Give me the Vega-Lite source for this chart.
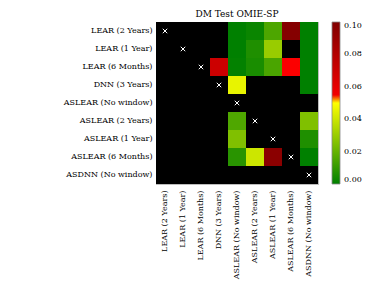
{
  "$schema": "https://vega.github.io/schema/vega-lite/v6.json",
  "autosize": {"type": "none"},
  "padding": {"left": 156, "top": 22, "right": 66, "bottom": 104},
  "width": 162,
  "height": 162,
  "title": {"text": "DM Test OMIE-SP", "font": "DejaVu Serif", "fontSize": 9, "fontWeight": "normal", "color": "black", "anchor": "middle", "baseline": "alphabetic", "offset": -4, "frame": "group"},
  "config": {
    "view": {"stroke": "#bdbdbd", "strokeWidth": 1, "fill": "black"},
    "axis": {"labelFont": "DejaVu Serif", "labelFontSize": 8, "labelColor": "black", "ticks": false, "domain": false, "grid": false, "title": null, "labelOverlap": false, "labelLimit": 0},
    "legend": {"labelFont": "DejaVu Serif", "labelFontSize": 8, "labelColor": "black"}
  },
  "data": {"values": [
    {"row": "LEAR (2 Years)", "col": "LEAR (2 Years)", "p": 1},
    {"row": "LEAR (2 Years)", "col": "LEAR (1 Year)", "p": 1},
    {"row": "LEAR (2 Years)", "col": "LEAR (6 Months)", "p": 1},
    {"row": "LEAR (2 Years)", "col": "DNN (3 Years)", "p": 1},
    {"row": "LEAR (2 Years)", "col": "ASLEAR (No window)", "p": 0.0},
    {"row": "LEAR (2 Years)", "col": "ASLEAR (2 Years)", "p": 0.002},
    {"row": "LEAR (2 Years)", "col": "ASLEAR (1 Year)", "p": 0.015},
    {"row": "LEAR (2 Years)", "col": "ASLEAR (6 Months)", "p": 0.098},
    {"row": "LEAR (2 Years)", "col": "ASDNN (No window)", "p": 0.0},
    {"row": "LEAR (1 Year)", "col": "LEAR (2 Years)", "p": 1},
    {"row": "LEAR (1 Year)", "col": "LEAR (1 Year)", "p": 1},
    {"row": "LEAR (1 Year)", "col": "LEAR (6 Months)", "p": 1},
    {"row": "LEAR (1 Year)", "col": "DNN (3 Years)", "p": 1},
    {"row": "LEAR (1 Year)", "col": "ASLEAR (No window)", "p": 0.0},
    {"row": "LEAR (1 Year)", "col": "ASLEAR (2 Years)", "p": 0.006},
    {"row": "LEAR (1 Year)", "col": "ASLEAR (1 Year)", "p": 0.030},
    {"row": "LEAR (1 Year)", "col": "ASLEAR (6 Months)", "p": 1},
    {"row": "LEAR (1 Year)", "col": "ASDNN (No window)", "p": 0.0},
    {"row": "LEAR (6 Months)", "col": "LEAR (2 Years)", "p": 1},
    {"row": "LEAR (6 Months)", "col": "LEAR (1 Year)", "p": 1},
    {"row": "LEAR (6 Months)", "col": "LEAR (6 Months)", "p": 1},
    {"row": "LEAR (6 Months)", "col": "DNN (3 Years)", "p": 0.070},
    {"row": "LEAR (6 Months)", "col": "ASLEAR (No window)", "p": 0.0005},
    {"row": "LEAR (6 Months)", "col": "ASLEAR (2 Years)", "p": 0.005},
    {"row": "LEAR (6 Months)", "col": "ASLEAR (1 Year)", "p": 0.0145},
    {"row": "LEAR (6 Months)", "col": "ASLEAR (6 Months)", "p": 0.051},
    {"row": "LEAR (6 Months)", "col": "ASDNN (No window)", "p": 0.0},
    {"row": "DNN (3 Years)", "col": "LEAR (2 Years)", "p": 1},
    {"row": "DNN (3 Years)", "col": "LEAR (1 Year)", "p": 1},
    {"row": "DNN (3 Years)", "col": "LEAR (6 Months)", "p": 1},
    {"row": "DNN (3 Years)", "col": "DNN (3 Years)", "p": 1},
    {"row": "DNN (3 Years)", "col": "ASLEAR (No window)", "p": 0.0455},
    {"row": "DNN (3 Years)", "col": "ASLEAR (2 Years)", "p": 1},
    {"row": "DNN (3 Years)", "col": "ASLEAR (1 Year)", "p": 1},
    {"row": "DNN (3 Years)", "col": "ASLEAR (6 Months)", "p": 1},
    {"row": "DNN (3 Years)", "col": "ASDNN (No window)", "p": 0.0},
    {"row": "ASLEAR (No window)", "col": "LEAR (2 Years)", "p": 1},
    {"row": "ASLEAR (No window)", "col": "LEAR (1 Year)", "p": 1},
    {"row": "ASLEAR (No window)", "col": "LEAR (6 Months)", "p": 1},
    {"row": "ASLEAR (No window)", "col": "DNN (3 Years)", "p": 1},
    {"row": "ASLEAR (No window)", "col": "ASLEAR (No window)", "p": 1},
    {"row": "ASLEAR (No window)", "col": "ASLEAR (2 Years)", "p": 1},
    {"row": "ASLEAR (No window)", "col": "ASLEAR (1 Year)", "p": 1},
    {"row": "ASLEAR (No window)", "col": "ASLEAR (6 Months)", "p": 1},
    {"row": "ASLEAR (No window)", "col": "ASDNN (No window)", "p": 1},
    {"row": "ASLEAR (2 Years)", "col": "LEAR (2 Years)", "p": 1},
    {"row": "ASLEAR (2 Years)", "col": "LEAR (1 Year)", "p": 1},
    {"row": "ASLEAR (2 Years)", "col": "LEAR (6 Months)", "p": 1},
    {"row": "ASLEAR (2 Years)", "col": "DNN (3 Years)", "p": 1},
    {"row": "ASLEAR (2 Years)", "col": "ASLEAR (No window)", "p": 0.0155},
    {"row": "ASLEAR (2 Years)", "col": "ASLEAR (2 Years)", "p": 1},
    {"row": "ASLEAR (2 Years)", "col": "ASLEAR (1 Year)", "p": 1},
    {"row": "ASLEAR (2 Years)", "col": "ASLEAR (6 Months)", "p": 1},
    {"row": "ASLEAR (2 Years)", "col": "ASDNN (No window)", "p": 0.025},
    {"row": "ASLEAR (1 Year)", "col": "LEAR (2 Years)", "p": 1},
    {"row": "ASLEAR (1 Year)", "col": "LEAR (1 Year)", "p": 1},
    {"row": "ASLEAR (1 Year)", "col": "LEAR (6 Months)", "p": 1},
    {"row": "ASLEAR (1 Year)", "col": "DNN (3 Years)", "p": 1},
    {"row": "ASLEAR (1 Year)", "col": "ASLEAR (No window)", "p": 0.025},
    {"row": "ASLEAR (1 Year)", "col": "ASLEAR (2 Years)", "p": 1},
    {"row": "ASLEAR (1 Year)", "col": "ASLEAR (1 Year)", "p": 1},
    {"row": "ASLEAR (1 Year)", "col": "ASLEAR (6 Months)", "p": 1},
    {"row": "ASLEAR (1 Year)", "col": "ASDNN (No window)", "p": 0.006},
    {"row": "ASLEAR (6 Months)", "col": "LEAR (2 Years)", "p": 1},
    {"row": "ASLEAR (6 Months)", "col": "LEAR (1 Year)", "p": 1},
    {"row": "ASLEAR (6 Months)", "col": "LEAR (6 Months)", "p": 1},
    {"row": "ASLEAR (6 Months)", "col": "DNN (3 Years)", "p": 1},
    {"row": "ASLEAR (6 Months)", "col": "ASLEAR (No window)", "p": 0.008},
    {"row": "ASLEAR (6 Months)", "col": "ASLEAR (2 Years)", "p": 0.040},
    {"row": "ASLEAR (6 Months)", "col": "ASLEAR (1 Year)", "p": 0.0955},
    {"row": "ASLEAR (6 Months)", "col": "ASLEAR (6 Months)", "p": 1},
    {"row": "ASLEAR (6 Months)", "col": "ASDNN (No window)", "p": 0.0},
    {"row": "ASDNN (No window)", "col": "LEAR (2 Years)", "p": 1},
    {"row": "ASDNN (No window)", "col": "LEAR (1 Year)", "p": 1},
    {"row": "ASDNN (No window)", "col": "LEAR (6 Months)", "p": 1},
    {"row": "ASDNN (No window)", "col": "DNN (3 Years)", "p": 1},
    {"row": "ASDNN (No window)", "col": "ASLEAR (No window)", "p": 1},
    {"row": "ASDNN (No window)", "col": "ASLEAR (2 Years)", "p": 1},
    {"row": "ASDNN (No window)", "col": "ASLEAR (1 Year)", "p": 1},
    {"row": "ASDNN (No window)", "col": "ASLEAR (6 Months)", "p": 1},
    {"row": "ASDNN (No window)", "col": "ASDNN (No window)", "p": 1}
  ]},
  "encoding": {
    "x": {"field": "col", "type": "nominal", "sort": ["LEAR (2 Years)", "LEAR (1 Year)", "LEAR (6 Months)", "DNN (3 Years)", "ASLEAR (No window)", "ASLEAR (2 Years)", "ASLEAR (1 Year)", "ASLEAR (6 Months)", "ASDNN (No window)"], "scale": {"paddingInner": 0, "paddingOuter": 0}, "axis": {"labelAngle": 270, "labelPadding": 6}},
    "y": {"field": "row", "type": "nominal", "sort": ["LEAR (2 Years)", "LEAR (1 Year)", "LEAR (6 Months)", "DNN (3 Years)", "ASLEAR (No window)", "ASLEAR (2 Years)", "ASLEAR (1 Year)", "ASLEAR (6 Months)", "ASDNN (No window)"], "scale": {"paddingInner": 0, "paddingOuter": 0}, "axis": {"labelPadding": 4}}
  },
  "layer": [
    {
      "mark": {"type": "rect", "strokeWidth": 0},
      "encoding": {
        "color": {
          "condition": {"test": "datum.p > 0.1", "value": "black"},
          "field": "p", "type": "quantitative",
          "scale": {"domain": [0, 0.05, 0.050001, 0.1], "range": ["#008000", "#ffff00", "#ff0000", "#800000"], "interpolate": "rgb", "clamp": true},
          "legend": {"title": null, "orient": "right", "offset": 14, "padding": 0, "direction": "vertical", "gradientLength": 162, "gradientThickness": 8, "gradientStrokeColor": "#888888", "gradientStrokeWidth": 0.8, "values": [0, 0.02, 0.04, 0.06, 0.08, 0.1], "format": ".2f", "labelOffset": 4, "labelBaseline": "middle", "labelOverlap": false}
        }
      }
    },
    {
      "transform": [{"filter": "datum.row === datum.col"}],
      "mark": {"type": "point", "shape": "M-1,-1L1,1M-1,1L1,-1", "filled": false, "stroke": "white", "strokeWidth": 1, "size": 20, "opacity": 1}
    }
  ]
}
